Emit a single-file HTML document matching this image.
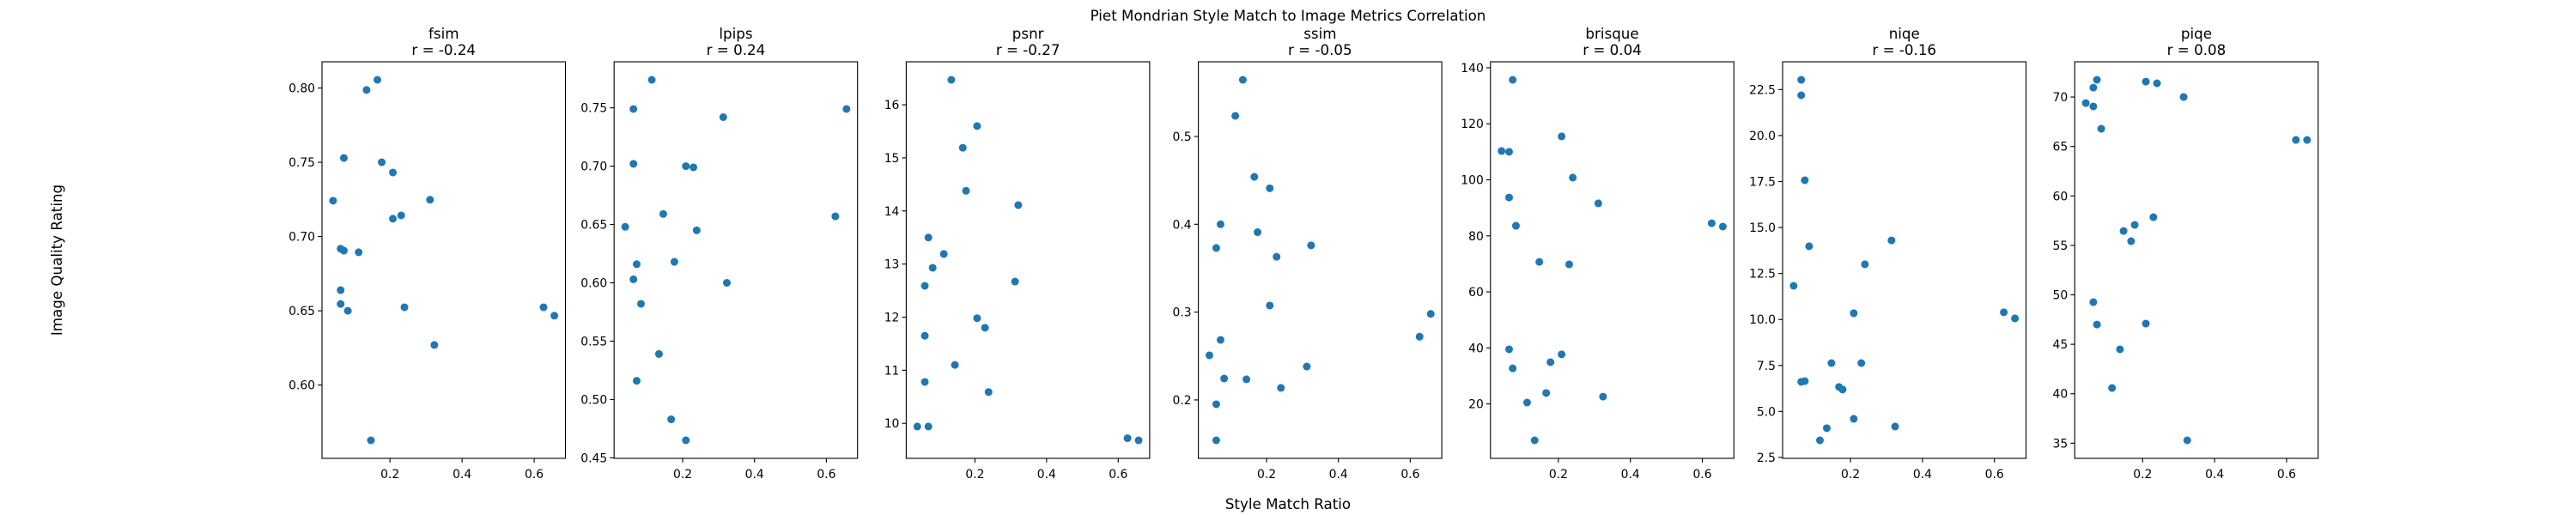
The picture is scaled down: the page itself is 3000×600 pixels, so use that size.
<!DOCTYPE html>
<html><head><meta charset="utf-8"><style>
html,body{margin:0;padding:0;background:#fff}
svg{display:block;font-family:"DejaVu Sans","Liberation Sans",sans-serif}
</style></head><body>
<svg id="chart" width="3000" height="600" viewBox="0 0 3000 600" xmlns="http://www.w3.org/2000/svg">
<rect width="3000" height="600" fill="#fff"/>
<text x="1500" y="24" font-size="16.7" text-anchor="middle">Piet Mondrian Style Match to Image Metrics Correlation</text>
<text x="1500" y="593" font-size="16.7" text-anchor="middle">Style Match Ratio</text>
<text transform="translate(72,303) rotate(-90)" font-size="16.7" text-anchor="middle">Image Quality Rating</text>
</svg>
<script>
const metricNames = ["fsim","lpips","psnr","ssim","brisque","niqe","piqe"];
const corrLabels = ["r = -0.24","r = 0.24","r = -0.27","r = -0.05","r = 0.04","r = -0.16","r = 0.08"];
const xTicks = [0.2,0.4,0.6];
const xTickLabels = ["0.2","0.4","0.6"];

const fsimX = [0.135,0.165,0.072,0.177,0.208,0.042,0.311,0.231,0.208,0.063,0.072,0.113,0.063,0.063,0.083,0.240,0.626,0.656,0.323,0.147];
const fsimY = [0.7987,0.8055,0.7529,0.750,0.7431,0.7241,0.7248,0.7142,0.712,0.6918,0.6905,0.6894,0.6639,0.6546,0.650,0.6524,0.6524,0.6467,0.627,0.5628];
const lpipsX = [0.114,0.063,0.656,0.313,0.063,0.209,0.230,0.146,0.625,0.040,0.239,0.072,0.177,0.063,0.323,0.084,0.134,0.072,0.168,0.209];
const lpipsY = [0.774,0.749,0.749,0.742,0.702,0.700,0.699,0.659,0.657,0.648,0.645,0.616,0.618,0.603,0.600,0.582,0.539,0.516,0.483,0.465];
const psnrX = [0.134,0.206,0.166,0.175,0.321,0.070,0.113,0.082,0.060,0.312,0.206,0.228,0.060,0.144,0.060,0.238,0.039,0.070,0.626,0.657];
const psnrY = [16.47,15.60,15.19,14.38,14.11,13.50,13.19,12.93,12.59,12.67,11.98,11.80,11.65,11.10,10.78,10.59,9.94,9.94,9.72,9.68];
const ssimX = [0.134,0.113,0.166,0.209,0.072,0.175,0.060,0.324,0.228,0.209,0.657,0.626,0.072,0.041,0.312,0.082,0.144,0.240,0.060,0.060];
const ssimY = [0.5645,0.5235,0.454,0.441,0.400,0.391,0.373,0.376,0.363,0.3075,0.298,0.272,0.2684,0.2508,0.238,0.2244,0.2235,0.2137,0.1951,0.154];
const brisqueX = [0.073,0.209,0.042,0.063,0.240,0.063,0.311,0.626,0.657,0.082,0.147,0.230,0.063,0.209,0.178,0.073,0.166,0.324,0.113,0.134];
const brisqueY = [135.7,115.5,110.3,110.0,100.8,93.7,91.6,84.5,83.3,83.6,70.7,69.8,39.5,37.7,34.9,32.7,23.9,22.6,20.5,7.0];
const niqeX = [0.063,0.063,0.073,0.085,0.314,0.240,0.042,0.209,0.626,0.657,0.147,0.230,0.063,0.073,0.168,0.178,0.209,0.324,0.134,0.115];
const niqeY = [23.03,22.19,17.57,13.98,14.30,13.0,11.83,10.34,10.39,10.06,7.63,7.63,6.61,6.65,6.33,6.19,4.60,4.18,4.09,3.43];
const piqeX = [0.073,0.209,0.240,0.063,0.314,0.042,0.063,0.085,0.626,0.657,0.230,0.178,0.147,0.168,0.063,0.073,0.209,0.137,0.115,0.324];
const piqeY = [71.74,71.56,71.39,70.95,70.0,69.39,69.05,66.79,65.66,65.66,57.85,57.07,56.46,55.42,49.26,47.0,47.09,44.49,40.58,35.29];

const fsimTicks = [0.60,0.65,0.70,0.75,0.80];
const lpipsTicks = [0.45,0.50,0.55,0.60,0.65,0.70,0.75];
const psnrTicks = [10,11,12,13,14,15,16];
const ssimTicks = [0.2,0.3,0.4,0.5];
const brisqueTicks = [20,40,60,80,100,120,140];
const niqeTicks = [2.5,5.0,7.5,10.0,12.5,15.0,17.5,20.0,22.5];
const piqeTicks = [35,40,45,50,55,60,65,70];
const tickDecimals = [2,2,0,1,0,1,0];

const seriesX = [fsimX,lpipsX,psnrX,ssimX,brisqueX,niqeX,piqeX];
const seriesY = [fsimY,lpipsY,psnrY,ssimY,brisqueY,niqeY,piqeY];
const seriesTicks = [fsimTicks,lpipsTicks,psnrTicks,ssimTicks,brisqueTicks,niqeTicks,piqeTicks];

const NS = "http://www.w3.org/2000/svg";
const svg = document.getElementById("chart");
function mk(tag, attrs, parent){const e=document.createElementNS(NS,tag);for(const k in attrs)e.setAttribute(k,attrs[k]);(parent||svg).appendChild(e);return e;}
function lim(arr){const mn=Math.min(...arr),mx=Math.max(...arr),m=(mx-mn)*0.05;return [mn-m,mx+m];}

const axW = 283.5, gap = 56.7, axTop = 72, axBot = 534, axL0 = 375;
for(let i=0;i<metricNames.length;i++){
  const L = axL0 + i*(axW+gap), R = L+axW;
  const [xmin,xmax] = lim(seriesX[i]);
  const [ymin,ymax] = lim(seriesY[i]);
  const sx = v => L + (v-xmin)/(xmax-xmin)*axW;
  const sy = v => axBot - (v-ymin)/(ymax-ymin)*(axBot-axTop);
  const g = mk("g",{});
  
  
  const t1 = mk("text",{x:(L+R)/2,y:45,"font-size":16.7,"text-anchor":"middle"},g);
  t1.textContent = metricNames[i];
  
  
  const t2 = mk("text",{x:(L+R)/2,y:64,"font-size":16.7,"text-anchor":"middle"},g);
  t2.textContent = corrLabels[i];
  
  
  for(let j=0;j<seriesX[i].length;j++){
    const c = mk("circle",{cx:sx(seriesX[i][j]),cy:sy(seriesY[i][j]),r:4.5,fill:"#1f77b4"},g);
    
    
  }
  for(let k=0;k<xTicks.length;k++){
    const x = sx(xTicks[k]);
    mk("line",{x1:x,x2:x,y1:axBot,y2:axBot+4.9,stroke:"#000","stroke-width":1.1},g);
    const tl = mk("text",{x:x,y:axBot+23,"font-size":13.9,"text-anchor":"middle"},g);
    tl.textContent = xTickLabels[k];
    
    
  }
  const yt = seriesTicks[i];
  for(let k=0;k<yt.length;k++){
    const y = sy(yt[k]);
    if(y<axTop-0.5||y>axBot+0.5) continue;
    mk("line",{x1:L-4.9,x2:L,y1:y,y2:y,stroke:"#000","stroke-width":1.1},g);
    const tl = mk("text",{x:L-8,y:y+5,"font-size":13.9,"text-anchor":"end"},g);
    tl.textContent = yt[k].toFixed(tickDecimals[i]);
    
    
  }
  const fr = mk("rect",{x:L,y:axTop,width:axW,height:axBot-axTop,fill:"none",stroke:"#000","stroke-width":1.1},g);
  
  
}
</script>
</body></html>
